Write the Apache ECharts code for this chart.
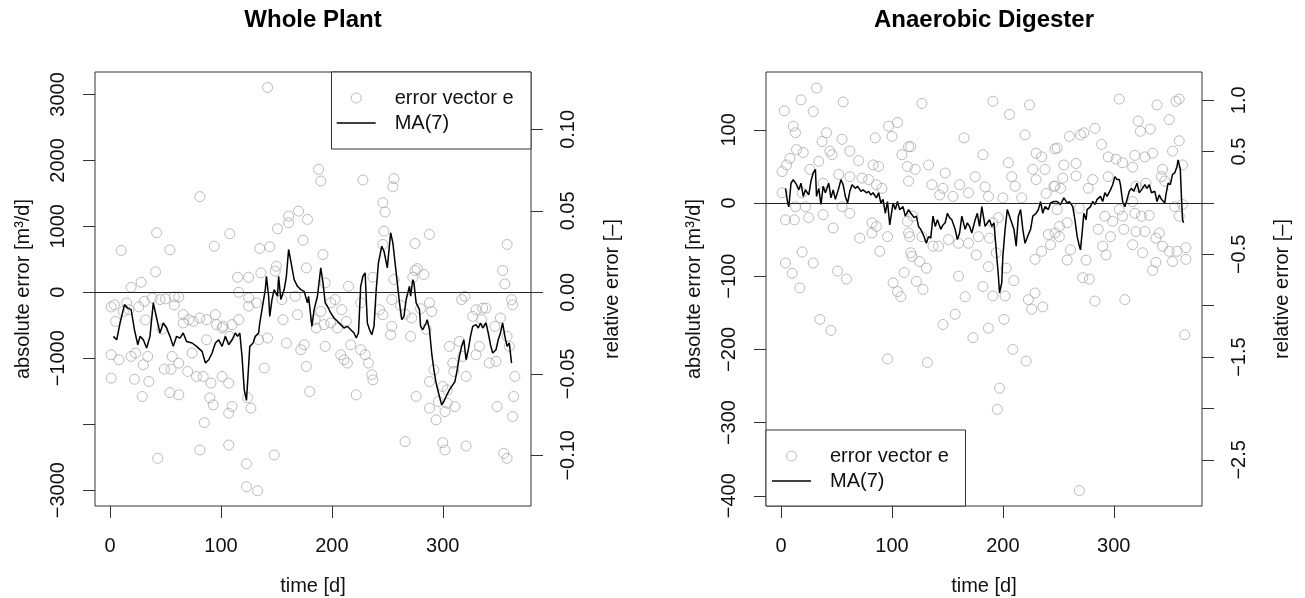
<!DOCTYPE html>
<html>
<head>
<meta charset="utf-8">
<title>Whole Plant / Anaerobic Digester</title>
<script src="https://cdn.jsdelivr.net/npm/echarts@6/dist/echarts.min.js"></script>
<style>
    html, body { margin: 0; padding: 0; background: #fff; }
    #chart { width: 1305px; height: 598px; }
</style>
</head>
<body>
<div id="chart"></div>
<script>
// Whole Plant: error vector e, [day, m3/d]
var wholeErr = [
    [1,-222],[1,-947],[1,-1301],[4,-190],[5,-440],[8,-1023],[10,634],[12,-290],[15,-161],[17,-263],
    [19,76],[19,-972],[22,-1318],[23,-921],[26,-220],[28,152],[29,-1580],[30,-1099],[31,-137],[32,-420],
    [34,-972],[35,-1352],[38,-86],[41,310],[42,903],[43,-2517],[45,-110],[47,-560],[49,-1165],[50,-100],
    [54,644],[54,-1520],[55,-1165],[56,-972],[58,-190],[58,-70],[62,-70],[62,-1074],[62,-1555],[66,-339],
    [66,-465],[70,-1200],[71,-415],[74,-921],[75,-440],[78,-1276],[81,1450],[81,-390],[81,-2390],[84,-1276],
    [85,-1976],[87,-415],[87,-720],[90,-1600],[91,-1377],[93,-1707],[94,699],[95,-339],[96,-490],[101,-541],
    [101,-1276],[102,-515],[107,-1377],[107,-1833],[107,-2315],[108,887],[108,-668],[110,-490],[110,-1732],[115,228],
    [116,0],[116,-415],[123,-2600],[123,-2948],[124,-1600],[125,228],[125,-86],[125,-210],[127,-1757],[132,-160],
    [133,-3009],[134,-718],[135,664],[136,294],[139,-1149],[142,3106],[142,-693],[144,690],[148,-2466],[149,320],
    [150,395],[151,963],[155,-110],[156,-415],[159,-769],[161,1155],[161,1054],[167,-60],[169,-340],[170,1231],
    [172,-871],[174,790],[175,-795],[177,370],[177,-1124],[178,1105],[180,-1505],[185,-415],[186,-541],[188,1865],
    [190,1687],[190,-289],[192,573],[193,-490],[194,143],[194,-820],[199,-160],[199,-465],[203,-110],[205,-541],
    [208,-947],[209,-263],[211,-1023],[213,-440],[214,-1073],[215,91],[217,-795],[222,-1555],[226,-160],[226,-871],
    [228,1703],[230,-947],[233,-1073],[236,-1251],[237,228],[237,-1327],[243,-263],[246,1358],[246,725],[246,-340],
    [247,927],[248,1216],[253,-643],[254,-110],[254,-516],[255,1600],[256,1723],[256,193],[262,-200],[266,-330],
    [266,-2264],[271,-668],[272,-390],[273,228],[275,740],[275,330],[276,-1580],[277,360],[280,-250],[283,270],
    [285,-560],[288,877],[288,-160],[288,-1352],[288,-1757],[290,-290],[292,-1175],[294,-1934],[296,-1656],[300,-1428],
    [300,-2280],[302,-1808],[302,-2390],[304,-1479],[304,-1681],[306,-820],[309,-1073],[310,-1200],[311,-1732],[315,-745],
    [317,-110],[318,-972],[320,-60],[321,-1276],[321,-2330],[327,-365],[330,-265],[330,-947],[333,-820],[335,-415],
    [336,-240],[339,-240],[342,-1073],[347,-516],[348,-1048],[349,-1732],[352,-390],[354,330],[355,-2441],[356,127],
    [358,725],[358,-668],[358,-2517],[360,-820],[362,-110],[363,-190],[363,-1884],[364,-1580],[365,-1276]
];

// Whole Plant: MA(7)
var wholeMa = [
    [3,-668],[6,-720],[9,-466],[13,-187],[16,-240],[19,-263],[22,-567],[25,-795],[27,-668],[30,-720],
    [33,-845],[36,-668],[39,-161],[42,-390],[45,-617],[48,-466],[51,-541],[54,-668],[57,-820],[60,-668],
    [63,-694],[66,-617],[69,-745],[74,-769],[78,-820],[83,-896],[86,-1073],[89,-1023],[92,-921],[95,-769],
    [98,-720],[101,-820],[104,-668],[107,-795],[110,-720],[113,-617],[115,-668],[117,-617],[119,-972],[121,-1479],
    [123,-1640],[125,-1100],[126,-820],[129,-769],[131,-668],[134,-617],[135,-466],[138,-161],[140,41],[141,243],
    [143,-60],[144,-365],[146,-110],[148,41],[151,-60],[152,243],[154,-110],[157,41],[159,243],[161,649],
    [163,471],[166,192],[169,91],[172,41],[175,15],[178,-161],[179,-60],[182,-516],[184,-263],[187,-60],
    [190,370],[192,142],[194,-161],[196,-211],[199,-314],[202,-390],[205,-440],[208,-490],[211,-541],[214,-516],
    [217,-567],[220,-617],[222,-694],[224,-617],[226,91],[228,243],[230,294],[232,-466],[234,-567],[236,-643],
    [238,-516],[240,41],[242,446],[245,699],[247,623],[250,370],[253,903],[255,750],[257,446],[259,142],
    [261,-161],[263,-415],[265,-365],[267,-110],[270,91],[271,-60],[273,192],[274,142],[276,-161],[279,-263],
    [280,-516],[282,-567],[285,-466],[286,-415],[288,-567],[290,-921],[292,-1175],[294,-1377],[297,-1580],[299,-1707],
    [301,-1656],[303,-1580],[306,-1479],[309,-1403],[311,-1352],[313,-1175],[315,-972],[317,-820],[319,-720],[321,-1023],
    [323,-871],[325,-668],[327,-516],[330,-490],[332,-541],[334,-466],[336,-541],[339,-466],[341,-617],[343,-795],
    [345,-921],[348,-871],[350,-720],[352,-617],[354,-466],[356,-668],[358,-820],[360,-769],[362,-1073]
];

// Anaerobic Digester: error vector e, [day, m3/d]
var digErr = [
    [1,43],[1,14],[3,126],[4,-23],[4,-82],[5,52],[8,61],[10,-96],[11,105],[12,-23],
    [13,96],[13,-5],[14,73],[17,-116],[18,141],[19,14],[19,-67],[20,69],[22,-5],[25,-20],
    [26,46],[29,125],[29,-82],[32,157],[34,57],[35,-159],[37,84],[38,27],[38,-16],[41,96],
    [44,71],[45,-174],[46,66],[47,-34],[51,-93],[52,39],[55,87],[55,-5],[56,138],[59,-104],
    [62,71],[62,36],[62,-14],[70,58],[71,-48],[73,34],[79,32],[82,-27],[82,-41],[83,52],
    [85,89],[86,25],[86,-32],[88,50],[89,-66],[91,20],[96,-46],[96,-213],[97,105],[100,91],
    [101,-109],[105,110],[105,-121],[108,-128],[109,66],[111,-95],[114,50],[114,-25],[115,77],[115,30],
    [115,-41],[116,-46],[117,-68],[117,77],[118,-73],[119,-18],[121,46],[122,-107],[125,-80],[127,136],
    [127,-46],[128,-118],[131,-89],[132,-218],[133,52],[136,25],[137,-59],[142,-59],[143,11],[146,20],
    [146,-166],[148,41],[151,-50],[155,9],[157,-152],[160,-55],[160,-100],[161,25],[165,89],[166,-128],
    [169,14],[169,-55],[173,-184],[175,36],[176,-71],[178,-46],[182,66],[182,-114],[184,22],[187,9],
    [187,-87],[187,-171],[188,-48],[191,139],[191,-27],[191,-127],[194,-68],[195,-282],[196,-20],[197,-253],
    [200,7],[201,-159],[202,-127],[203,-89],[205,55],[206,121],[208,36],[209,-200],[210,-106],[211,23],
    [217,7],[220,93],[221,-216],[223,-132],[224,134],[226,-145],[227,46],[229,-77],[229,-123],[230,68],
    [230,32],[235,63],[235,-66],[236,-142],[238,46],[239,13],[241,-43],[243,-57],[246,23],[247,74],
    [247,23],[247,-41],[249,75],[249,-9],[251,-32],[251,-46],[252,20],[254,34],[255,52],[258,-27],
    [258,-78],[260,91],[261,-64],[266,54],[266,37],[269,-7],[269,-393],[270,93],[272,-102],[273,96],
    [275,-78],[277,20],[278,-104],[281,32],[283,102],[283,-134],[286,-36],[289,80],[290,-59],[292,-18],
    [293,-71],[295,63],[295,36],[297,-46],[299,-25],[302,60],[305,142],[305,-9],[308,55],[308,-18],
    [309,-36],[310,-132],[317,49],[317,2],[317,-57],[319,65],[319,-14],[320,23],[320,-39],[322,112],
    [324,98],[325,-18],[326,-68],[328,63],[328,-39],[329,27],[332,-17],[333,101],[335,68],[335,-92],
    [338,-48],[338,-81],[339,134],[341,-41],[343,36],[344,46],[344,-59],[346,30],[350,114],[350,-66],
    [353,71],[353,-80],[355,-5],[356,139],[357,-66],[359,142],[359,85],[359,-18],[362,52],[362,-2],
    [364,-180],[365,-61],[365,-77]
];

// Anaerobic Digester: MA(7)
var digMa = [
    [4,20],[6,0],[7,-5],[9,27],[11,32],[14,25],[16,18],[18,27],[20,9],[22,18],
    [25,11],[27,30],[29,41],[31,46],[32,9],[34,20],[36,-2],[38,23],[40,14],[43,27],
    [45,7],[47,18],[49,5],[52,20],[54,32],[56,25],[58,9],[60,0],[62,16],[64,25],
    [67,20],[69,23],[72,16],[74,18],[77,14],[79,16],[81,11],[83,14],[86,7],[88,14],
    [90,0],[92,5],[94,-14],[96,2],[98,-30],[101,0],[103,-9],[105,2],[107,-9],[110,-5],
    [112,-18],[115,-9],[117,-14],[120,-20],[122,-18],[124,-32],[126,-36],[129,-46],[131,-55],[133,-46],
    [135,-48],[137,-18],[139,-32],[141,-23],[144,-36],[146,-30],[148,-27],[150,-14],[152,-20],[154,-23],
    [157,-36],[159,-50],[161,-41],[163,-18],[166,-36],[168,-27],[170,-32],[172,-41],[175,-23],[177,-14],
    [179,-32],[181,-5],[184,-32],[186,-27],[188,-23],[190,-32],[192,-27],[194,-64],[196,-100],[197,-123],
    [199,-109],[200,-73],[202,-36],[204,-9],[206,-18],[208,-27],[210,-36],[212,-59],[214,-18],[216,-9],
    [218,-36],[220,-55],[223,-43],[225,-36],[227,-18],[230,-14],[232,-9],[234,2],[236,-14],[238,-5],
    [241,-9],[243,0],[246,2],[249,2],[252,-2],[255,7],[258,0],[260,2],[263,-5],[265,-23],
    [267,-46],[269,-59],[270,-64],[272,-32],[273,-14],[275,-23],[276,-9],[279,-5],[281,2],[283,-2],
    [285,5],[288,9],[290,2],[292,14],[294,9],[297,18],[299,25],[301,36],[303,32],[305,32],
    [306,25],[308,2],[310,-5],[312,5],[314,16],[316,20],[318,16],[321,27],[323,14],[325,18],
    [328,25],[330,20],[332,25],[334,14],[337,16],[339,2],[341,11],[343,5],[346,0],[347,11],
    [349,27],[351,25],[353,39],[355,41],[357,50],[358,59],[360,46],[361,9],[362,-23],[363,-27]
];

// tick positions and shown labels
var timeTicks = [0, 100, 200, 300];
var wholeAbsTicks = [-3000, -2000, -1000, 0, 1000, 2000, 3000];
var wholeAbsLabels = [-3000, -1000, 0, 1000, 2000, 3000];
var wholeRelTicks = [-0.10, -0.05, 0, 0.05, 0.10];
var digAbsTicks = [-400, -300, -200, -100, 0, 100];
var digRelTicks = [-2.5, -2.0, -1.5, -1.0, -0.5, 0, 0.5, 1.0];
var digRelLabels = [-2.5, -1.5, -0.5, 0.5, 1.0];

var FONT = 'Liberation Sans';
var minus = function (s) { return String(s).replace('-', '\u2212'); };

function xAxisFor(gridIndex) {
    return {
        type: 'value', gridIndex: gridIndex,
        min: -13.56, max: 379.56,
        name: 'time [d]', nameLocation: 'middle', nameGap: 70,
        nameTextStyle: {fontSize: 20, fontFamily: FONT, color: '#111'},
        axisLine: {show: false, onZero: false},
        splitLine: {show: false},
        axisTick: {length: 12, inside: false, customValues: timeTicks, lineStyle: {color: '#333'}},
        axisLabel: {customValues: timeTicks, margin: 30, fontSize: 20, fontFamily: FONT, color: '#111'}
    };
}

function yAxisFor(gridIndex, pos, min, max, ticks, labels, name, gap, fmt) {
    return {
        type: 'value', gridIndex: gridIndex, position: pos,
        min: min, max: max,
        name: name, nameLocation: 'middle', nameGap: gap, nameRotate: 90,
        nameTextStyle: {fontSize: 20, fontFamily: FONT, color: '#111'},
        axisLine: {show: false, onZero: false},
        splitLine: {show: false},
        axisTick: {length: 12, inside: false, customValues: ticks, lineStyle: {color: '#333'}},
        axisLabel: {
            customValues: labels, rotate: 90, margin: 27,
            fontSize: 20, fontFamily: FONT, color: '#111',
            formatter: fmt
        }
    };
}

var circleStyle = {color: 'rgba(0,0,0,0)', borderColor: '#aaaaaa', borderWidth: 1};
var zeroLine = {
    silent: true, symbol: 'none',
    label: {show: false},
    lineStyle: {color: '#222', width: 1, type: 'solid'},
    data: [{yAxis: 0}]
};

function legendFor(left, top, padLeft) {
    return {
        orient: 'vertical', left: left, top: top, z: 10,
        padding: [16, 0, 0, padLeft],
        itemWidth: 39, itemHeight: 10, itemGap: 5,
        selectedMode: false,
        textStyle: {fontSize: 20, fontFamily: FONT, color: '#111', lineHeight: 20, padding: [0, 0, 0, 14]},
        data: [
            {name: 'error vector e', icon: 'circle', itemStyle: circleStyle},
            {name: 'MA(7)', icon: 'path://M0,0L39,0L39,1.5L0,1.5Z', itemStyle: {color: '#000', borderWidth: 0}}
        ]
    };
}

var chart = echarts.init(document.getElementById('chart'));

var option = {
    animation: false,
    backgroundColor: '#fff',
    title: [{
        text: 'Whole Plant', left: 313, top: 8, textAlign: 'center', padding: 0,
        textStyle: {fontSize: 24, fontWeight: 'bold', fontFamily: FONT, color: '#000'}
    }, {
        text: 'Anaerobic Digester', left: 984, top: 8, textAlign: 'center', padding: 0,
        textStyle: {fontSize: 24, fontWeight: 'bold', fontFamily: FONT, color: '#000'}
    }],
    grid: [
        {left: 95, top: 72, width: 436, height: 434, outerBoundsMode: 'none',
            show: true, borderColor: '#333', borderWidth: 1},
        {left: 766, top: 72, width: 436, height: 434, outerBoundsMode: 'none',
            show: true, borderColor: '#333', borderWidth: 1}
    ],
    legend: [legendFor(331.7, 72, 5), legendFor(766, 430, 6)],
    graphic: [
        {type: 'rect', z: 5, shape: {x: 331.5, y: 72, width: 199.5, height: 77},
            style: {fill: '#fff', stroke: '#333', lineWidth: 1}},
        {type: 'rect', z: 5, shape: {x: 766, y: 430, width: 199.5, height: 76},
            style: {fill: '#fff', stroke: '#333', lineWidth: 1}}
    ],
    xAxis: [xAxisFor(0), xAxisFor(1)],
    yAxis: [
        yAxisFor(0, 'left', -3240, 3340, wholeAbsTicks, wholeAbsLabels,
            'absolute error [m\u00b3/d]', 62, function (v) { return minus(v); }),
        yAxisFor(0, 'right', -0.1311, 0.1352, wholeRelTicks, wholeRelTicks,
            'relative error [\u2013]', 71, function (v) { return minus(v.toFixed(2)); }),
        yAxisFor(1, 'left', -414, 179, digAbsTicks, digAbsTicks,
            'absolute error [m\u00b3/d]', 62, function (v) { return minus(v); }),
        yAxisFor(1, 'right', -2.949, 1.275, digRelTicks, digRelLabels,
            'relative error [\u2013]', 70, function (v) { return minus(v.toFixed(1)); })
    ],
    series: [{
        name: 'error vector e', type: 'scatter', xAxisIndex: 0, yAxisIndex: 0,
        symbol: 'circle', symbolSize: 10, itemStyle: circleStyle,
        markLine: zeroLine,
        data: wholeErr
    }, {
        name: 'MA(7)', type: 'line', xAxisIndex: 0, yAxisIndex: 0,
        symbol: 'none', lineStyle: {color: '#000', width: 1.5}, itemStyle: {color: '#000'},
        data: wholeMa
    }, {
        name: 'error vector e', type: 'scatter', xAxisIndex: 1, yAxisIndex: 2,
        symbol: 'circle', symbolSize: 10, itemStyle: circleStyle,
        markLine: zeroLine,
        data: digErr
    }, {
        name: 'MA(7)', type: 'line', xAxisIndex: 1, yAxisIndex: 2,
        symbol: 'none', lineStyle: {color: '#000', width: 1.5}, itemStyle: {color: '#000'},
        data: digMa
    }]
};

chart.setOption(option);
</script>
</body>
</html>
